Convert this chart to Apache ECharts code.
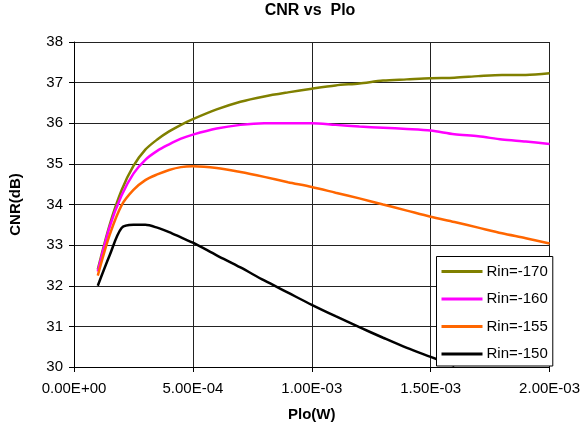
<!DOCTYPE html>
<html>
<head>
<meta charset="utf-8">
<script src="https://cdn.jsdelivr.net/npm/echarts@6/dist/echarts.min.js"></script>
<style>
  html, body { margin: 0; padding: 0; background: #fff; }
  #chart { width: 583px; height: 433px; }
</style>
</head>
<body>
<div id="chart"></div>
<script>
// LO power (W) at which CNR was evaluated
const plo = [1e-4, 1.5e-4, 2e-4, 2.5e-4, 3e-4, 3.5e-4, 4e-4, 4.5e-4, 5e-4, 6e-4, 7e-4, 8e-4,
             9e-4, 1e-3, 1.1e-3, 1.2e-3, 1.3e-3, 1.4e-3, 1.5e-3, 1.6e-3, 1.7e-3, 1.8e-3, 1.9e-3, 2e-3];

// CNR (dB) for each RIN level
const rin170 = [32.40, 33.50, 34.35, 34.95, 35.35, 35.60, 35.80, 35.96, 36.10, 36.34, 36.53, 36.66,
                36.76, 36.85, 36.93, 36.98, 37.05, 37.08, 37.11, 37.12, 37.16, 37.19, 37.19, 37.23];
const rin160 = [32.35, 33.45, 34.22, 34.76, 35.10, 35.32, 35.48, 35.62, 35.72, 35.87, 35.96, 36.00,
                36.00, 36.00, 35.96, 35.92, 35.89, 35.86, 35.82, 35.73, 35.68, 35.60, 35.55, 35.49];
const rin155 = [32.25, 33.25, 33.98, 34.36, 34.60, 34.74, 34.85, 34.92, 34.94, 34.90, 34.80, 34.68,
                34.55, 34.43, 34.29, 34.15, 34.00, 33.85, 33.70, 33.57, 33.43, 33.29, 33.17, 33.04];
const rin150 = [32.00, 32.75, 33.42, 33.50, 33.50, 33.43, 33.32, 33.19, 33.06, 32.75, 32.45, 32.13,
                31.83, 31.53, 31.25, 30.98, 30.72, 30.47, 30.25, 30.03];

const seriesNames = ['Rin=-170', 'Rin=-160', 'Rin=-155', 'Rin=-150'];
const seriesValues = [rin170, rin160, rin155, rin150];
const seriesColors = ['#808000', '#ff00ff', '#ff6600', '#000000'];

const yTicks = { min: 30, max: 38, step: 1 };
const xTicks = { min: 0, max: 0.002, step: 0.0005 };

const FONT = "'Liberation Sans', Arial, sans-serif";

// Excel-style scientific notation: 5.00E-04
function sci(v) {
  if (v === 0) return '0.00E+00';
  const parts = v.toExponential(2).split('e');
  const exp = parseInt(parts[1], 10);
  return parts[0] + 'E' + (exp < 0 ? '-' : '+') + String(Math.abs(exp)).padStart(2, '0');
}

const chart = echarts.init(document.getElementById('chart'), null, { renderer: 'canvas' });

chart.setOption({
  animation: false,
  backgroundColor: '#fff',
  title: {
    text: 'CNR vs  Plo',
    left: 310,
    top: 3,
    textAlign: 'center',
    padding: 0,
    textStyle: { fontFamily: FONT, fontSize: 16, fontWeight: 'bold', color: '#000' }
  },
  grid: { left: 71, right: 30, top: 42, bottom: 66, containLabel: false },
  legend: {
    orient: 'vertical',
    left: 436.5,
    top: 256.5,
    padding: [7, 5, 4, 5],
    itemWidth: 41,
    itemHeight: 3,
    itemGap: 11.5,
    icon: 'rect',
    backgroundColor: '#fff',
    borderColor: '#000',
    borderWidth: 1,
    borderRadius: 0,
    data: seriesNames,
    textStyle: { fontFamily: FONT, fontSize: 15, color: '#000', lineHeight: 16, padding: [0, 0, 0, -1] }
  },
  xAxis: {
    type: 'value',
    min: xTicks.min,
    max: xTicks.max,
    interval: xTicks.step,
    name: 'Plo(W)',
    nameLocation: 'middle',
    nameGap: 40,
    nameTextStyle: { fontFamily: FONT, fontSize: 15, fontWeight: 'bold', color: '#000' },
    axisLine: { show: true, onZero: false, lineStyle: { color: '#000', width: 1 } },
    axisTick: { show: true, inside: false, length: 5, lineStyle: { color: '#000' } },
    axisLabel: { fontFamily: FONT, fontSize: 15, color: '#000', margin: 14, formatter: sci },
    splitLine: { show: true, lineStyle: { color: '#222', width: 1 } }
  },
  yAxis: {
    type: 'value',
    min: yTicks.min,
    max: yTicks.max,
    interval: yTicks.step,
    name: 'CNR(dB)',
    nameLocation: 'middle',
    nameGap: 51,
    nameTextStyle: { fontFamily: FONT, fontSize: 15, fontWeight: 'bold', color: '#000' },
    axisLine: { show: true, lineStyle: { color: '#000', width: 1 } },
    axisTick: { show: true, inside: false, length: 5, lineStyle: { color: '#000' } },
    axisLabel: { fontFamily: FONT, fontSize: 15, color: '#000', margin: 11 },
    splitLine: { show: true, lineStyle: { color: '#222', width: 1 } }
  },
  series: seriesNames.map((name, i) => ({
    name: name,
    type: 'line',
    smooth: 0.3,
    showSymbol: false,
    symbol: 'none',
    color: seriesColors[i],
    lineStyle: { color: seriesColors[i], width: 2.5 },
    itemStyle: { color: seriesColors[i] },
    data: seriesValues[i].map((v, k) => [plo[k], v]),
    z: 2
  }))
});
</script>
</body>
</html>
